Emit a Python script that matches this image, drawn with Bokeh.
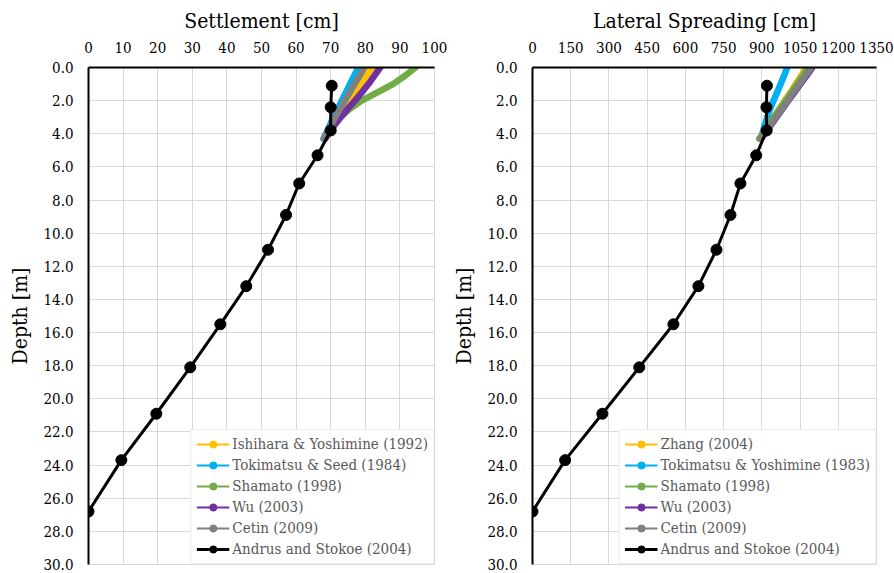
from bokeh.plotting import figure
from bokeh.layouts import row
from bokeh.models import (Range1d, FixedTicker, NumeralTickFormatter, Legend,
                          LegendItem)
from bokeh.embed import file_html
from bokeh.resources import INLINE

# ---- data -------------------------------------------------------------
# Andrus and Stokoe (2004) profile (depth in m)
andrus_depth = [1.1, 2.4, 3.8, 5.3, 7.0, 8.9, 11.0, 13.2, 15.5, 18.1, 20.9, 23.7, 26.8]
andrus_settlement = [70.3, 70.0, 70.0, 66.2, 60.9, 57.1, 51.9, 45.6, 38.1, 29.4, 19.6, 9.5, 0.0]
andrus_spreading = [920, 918, 919, 878, 816, 777, 722, 651, 553, 419, 274, 128, 0]

# shallow-layer profiles of the empirical methods
method_depth = [0.0, 0.5, 1.0, 1.5, 2.0, 2.5, 3.0, 3.5, 4.0, 4.3]

settle_ishihara = [82.0, 80.3, 78.6, 76.9, 75.2, 73.5, 71.9, 70.4, 69.0, 68.3]
settle_tokimatsu = [78.0, 76.8, 75.6, 74.4, 73.2, 72.0, 70.8, 69.7, 68.6, 67.9]
settle_shamato = [94.5, 91.5, 88.0, 83.5, 79.0, 75.5, 72.8, 70.9, 69.4, 68.4]
settle_wu = [84.3, 82.6, 80.9, 79.0, 77.0, 74.9, 72.9, 71.0, 69.3, 68.4]
settle_cetin = [79.7, 78.3, 76.9, 75.5, 74.1, 72.7, 71.3, 70.0, 68.7, 68.0]

spread_zhang = [1075, 1054, 1033, 1012, 990, 969, 948, 927, 906, 893]
spread_tokimatsu = [1000, 987, 974, 960, 946, 932, 921, 911, 902, 895]
spread_shamato = [1082, 1060, 1038, 1016, 993, 970, 947, 925, 904, 890]
spread_wu = [1098, 1075, 1051, 1028, 1004, 981, 958, 935, 912, 897]
spread_cetin = [1093, 1070, 1047, 1024, 1001, 978, 955, 932, 909, 894]

settle_labels = ["Ishihara & Yoshimine (1992)", "Tokimatsu & Seed (1984)",
                 "Shamato (1998)", "Wu (2003)", "Cetin (2009)"]
spread_labels = ["Zhang (2004)", "Tokimatsu & Yoshimine (1983)",
                 "Shamato (1998)", "Wu (2003)", "Cetin (2009)"]
andrus_label = "Andrus and Stokoe (2004)"

settle_ticks = list(range(0, 101, 10))
spread_ticks = list(range(0, 1351, 150))
depth_ticks = list(range(0, 31, 2))

colors = ["#FFC000", "#00B0F0", "#70AD47", "#7030A0", "#808080"]

FONT = "DejaVu Serif Condensed"
NAN = float("nan")


def panel(title, ticks, labels, series, andrus_x, border_left, border_right):
    p = figure(width=447, height=573,
               x_range=Range1d(ticks[0], ticks[-1]), y_range=Range1d(30, 0),
               x_axis_location="above", output_backend="svg",
               toolbar_location=None,
               min_border_left=border_left, min_border_right=border_right,
               min_border_top=67, min_border_bottom=9)
    p.background_fill_color = "white"
    p.border_fill_color = "white"
    p.outline_line_color = "#d9d9d9"

    p.xaxis.ticker = FixedTicker(ticks=ticks)
    p.yaxis.ticker = FixedTicker(ticks=depth_ticks)
    p.yaxis.formatter = NumeralTickFormatter(format="0.0")
    p.xaxis.axis_label = title
    p.yaxis.axis_label = "Depth [m]"
    for ax in (p.xaxis, p.yaxis):
        ax.axis_line_color = "black"
        ax.axis_line_width = 2
        ax.major_tick_line_color = None
        ax.minor_tick_line_color = None
        ax.major_tick_out = 0
        ax.major_tick_in = 0
        ax.major_label_text_font = FONT
        ax.major_label_text_font_size = "15px"
        ax.major_label_text_color = "black"
        ax.axis_label_text_font = FONT
        ax.axis_label_text_font_size = "21px"
        ax.axis_label_text_font_style = "normal"
        ax.axis_label_text_color = "black"
    p.xaxis.major_label_standoff = 15
    p.xaxis.axis_label_standoff = 6
    p.yaxis.major_label_standoff = 15
    p.yaxis.axis_label_standoff = 8

    p.xgrid.ticker = FixedTicker(ticks=ticks)
    p.ygrid.ticker = FixedTicker(ticks=depth_ticks)
    p.grid.grid_line_color = "#d9d9d9"
    p.grid.grid_line_width = 1

    items = []
    for name, vals, c in zip(labels, series, colors):
        p.line(vals, method_depth, line_color=c, line_width=6.5,
               line_cap="round", line_join="round")
        # thin line + dot used only as the legend key
        key_line = p.line([NAN], [NAN], line_color=c, line_width=2)
        key_dot = p.scatter([NAN], [NAN], marker="circle", size=8, color=c)
        items.append(LegendItem(label=name, renderers=[key_line, key_dot]))

    black_line = p.line(andrus_x, andrus_depth, line_color="black", line_width=3)
    black_dot = p.scatter(andrus_x, andrus_depth, marker="circle", size=11,
                          color="black")
    items.append(LegendItem(label=andrus_label, renderers=[black_line, black_dot]))

    legend = Legend(items=items, location="bottom_right")
    legend.label_text_font = FONT
    legend.label_text_font_size = "15px"
    legend.label_text_color = "#595959"
    legend.border_line_color = "#d9d9d9"
    legend.background_fill_color = "white"
    legend.background_fill_alpha = 1
    legend.glyph_width = 33
    legend.glyph_height = 18
    legend.label_height = 18
    legend.spacing = 3
    legend.padding = 5
    legend.margin = 0
    legend.label_standoff = 3
    p.add_layout(legend)
    return p


p1 = panel("Settlement [cm]", settle_ticks, settle_labels,
           [settle_ishihara, settle_tokimatsu, settle_shamato, settle_wu, settle_cetin],
           andrus_settlement, 88, 13)
p2 = panel("Lateral Spreading [cm]", spread_ticks, spread_labels,
           [spread_zhang, spread_tokimatsu, spread_shamato, spread_wu, spread_cetin],
           andrus_spreading, 85, 18)

layout = row(p1, p2)
open("out.html", "w").write(file_html(layout, INLINE))
